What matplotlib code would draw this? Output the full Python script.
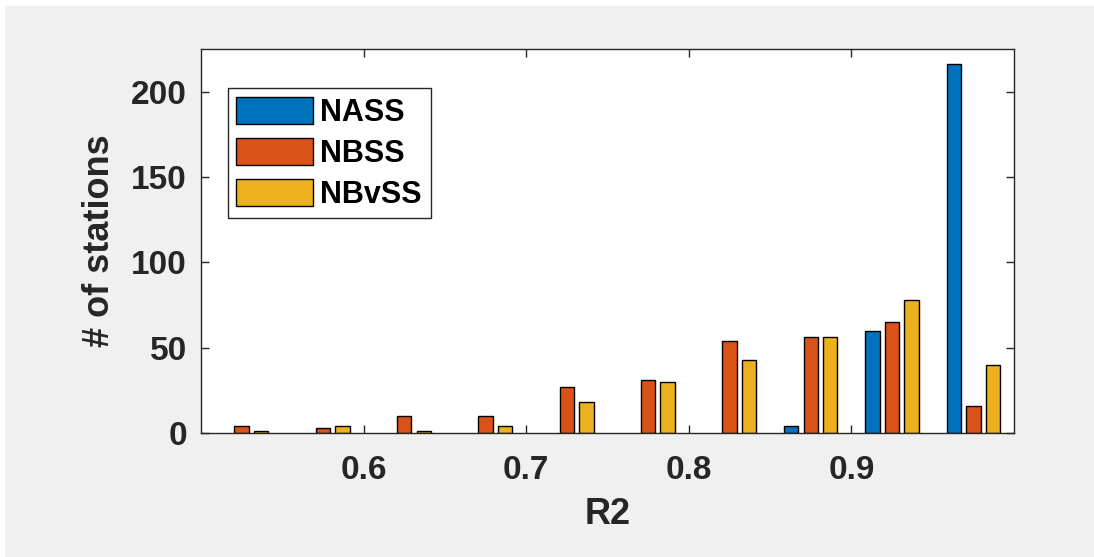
import matplotlib.pyplot as plt
from matplotlib.patches import Rectangle
import numpy as np

plt.rcParams["font.family"] = ["Liberation Sans", "DejaVu Sans"]
plt.rcParams["font.weight"] = "bold"

R2_CENTERS = [0.525, 0.575, 0.625, 0.675, 0.725, 0.775, 0.825, 0.875, 0.925, 0.975]
NASS = [0, 0, 0, 0, 0, 0, 0, 4, 60, 216]
NBSS = [4, 3, 10, 10, 27, 31, 54, 56, 65, 16]
NBVSS = [1, 4, 1, 4, 18, 30, 43, 56, 78, 40]
SERIES = [("NASS", NASS, "#0072BD"), ("NBSS", NBSS, "#D95319"), ("NBvSS", NBVSS, "#EDB120")]
X_TICKS = [0.6, 0.7, 0.8, 0.9]
Y_TICKS = [0, 50, 100, 150, 200]

AXIS_COLOR = "#262626"

fig = plt.figure(figsize=(10.94, 5.57), dpi=100, facecolor="white")
# grey MATLAB-style figure background, with thin white strip top/left
fig.patches.append(Rectangle((5 / 1094, 0), 1, 1 - 6 / 557, transform=fig.transFigure,
                             facecolor="#f0f0f0", edgecolor="none", zorder=-10))

ax = fig.add_axes([201 / 1094, 1 - 433 / 557, 813 / 1094, 384 / 557])
ax.set_facecolor("white")

x = np.array(R2_CENTERS)
width = 0.0089
offsets = [-0.012, 0.0, 0.012]
handles = []
for (name, vals, color), off in zip(SERIES, offsets):
    vals = np.array(vals, dtype=float)
    bars = ax.bar(x + off, vals, width=width, color=color, edgecolor="black",
                  linewidth=1.0)
    for b, v in zip(bars, vals):
        if v == 0:
            b.set_visible(False)
    handles.append(Rectangle((0, 0), 1, 1, facecolor=color, edgecolor="black", linewidth=1.0))

ax.set_xlim(0.5, 1.0)
ax.set_ylim(0, 225)
ax.set_xticks(X_TICKS)
ax.set_xticklabels([f"{t:.1f}" for t in X_TICKS])
ax.set_yticks(Y_TICKS)

for s in ax.spines.values():
    s.set_color(AXIS_COLOR)
    s.set_linewidth(1.0)
ax.tick_params(direction="in", length=6, width=1.0, color=AXIS_COLOR,
               top=True, right=True, labelsize=24, labelcolor=AXIS_COLOR)
ax.tick_params(axis="x", pad=16)
ax.tick_params(axis="y", pad=10)
for lab in ax.get_xticklabels() + ax.get_yticklabels():
    lab.set_fontweight("bold")

ax.set_xlabel("R2", fontsize=26, fontweight="bold", color=AXIS_COLOR, labelpad=8)
ax.set_ylabel("# of stations", fontsize=26, fontweight="bold", color=AXIS_COLOR, labelpad=10)

leg = ax.legend(handles, [s[0] for s in SERIES], loc="upper left",
                bbox_to_anchor=(0.033, 0.898),
                prop={"weight": "bold", "size": 22}, frameon=True, fancybox=False,
                handlelength=2.5, handleheight=1.0, labelspacing=0.32,
                handletextpad=0.25, borderpad=0.28, borderaxespad=0.0)
leg.get_frame().set_edgecolor(AXIS_COLOR)
leg.get_frame().set_linewidth(1.0)
leg.get_frame().set_facecolor("white")
leg.get_frame().set_alpha(1.0)
for t in leg.get_texts():
    t.set_color("black")

fig.savefig("out.png", dpi=100, facecolor=fig.get_facecolor())
